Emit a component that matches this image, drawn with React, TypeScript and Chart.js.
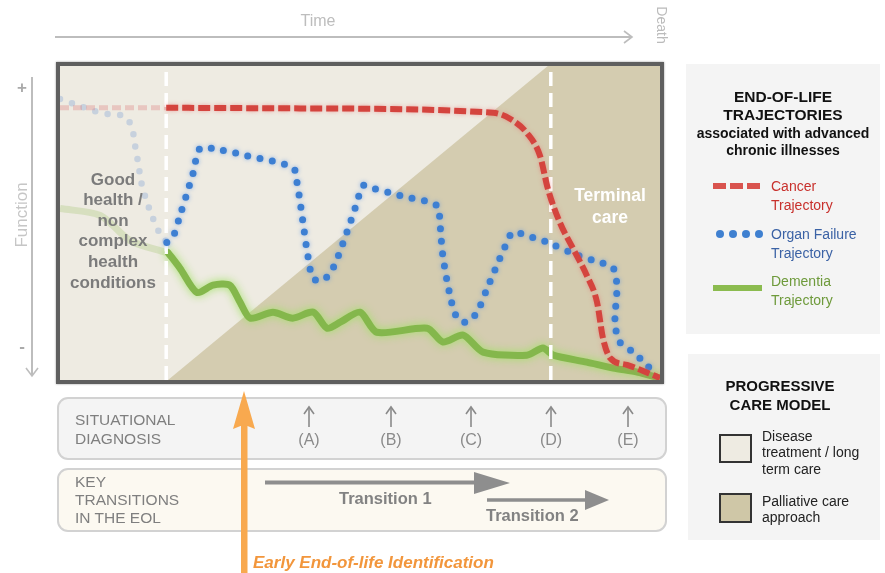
import React, { useEffect, useRef } from "react";
import { Chart, registerables } from "chart.js";

Chart.register(...registerables);

// ---- Data (time 0..100 left→right, function 0..100 bottom→top) ----
const stageBoundaries = [17.7, 81.8];
const palliativeTime = [18, 81.3, 100];
const palliativeLevel = [0, 100, 100];

const cancerEarlyTime = [0, 17.7];
const cancerEarlyFunction = [86.7, 86.7];
const cancerTime = [17.7, 40, 72.2, 75, 77.8, 80, 81.3, 83.3, 85.5, 87.8, 89.5, 90.5, 91.7, 94.5, 98.8, 100];
const cancerFunction = [86.7, 86.5, 85.1, 83.2, 78.7, 71.4, 61, 50.2, 41.9, 33.3, 24.8, 13.3, 7, 4.8, 1.6, 0.6];

const organEarlyTime = [0, 6.7, 11.2, 12.8, 13.8, 16.2, 17.8];
const organEarlyFunction = [89.5, 85.1, 83.2, 71.4, 61, 48.3, 43.8];
const organTime = [17.8, 18.8, 20, 21.2, 22.2, 23.3, 25.5, 31.2, 38.8, 39.5, 40.5, 41.3, 42.2, 43.8, 45.5, 47.8, 49.5, 50.5, 52.2, 56.7, 62.8, 63.3, 63.8, 65, 66.2, 67.8, 69.5, 71.2, 73.3, 74.5, 75.5, 78.8, 81.7, 85.5, 88.8, 92.2, 92.8, 92.5, 93.3, 95.5, 97.8, 98.8];
const organFunction = [43.8, 45.4, 52.4, 59.7, 66, 73.7, 73.7, 71.4, 67.6, 62.9, 50.2, 39.7, 32.4, 31.7, 35.6, 47, 56.5, 61.9, 61, 58.7, 55.6, 50.2, 39.7, 27, 19.7, 18.4, 21.6, 29.2, 38.7, 43.8, 47, 45.4, 43.5, 40.3, 38.1, 35.6, 29.2, 18.4, 12.1, 8.9, 4.8, 2.5];

const dementiaEarlyTime = [0, 6.7, 11.7, 17.7];
const dementiaEarlyFunction = [54.6, 52.4, 44.4, 40.6];
const dementiaTime = [18, 20, 22.8, 25.5, 28.3, 30, 31.7, 35.5, 38.8, 42.2, 44.5, 46.7, 50, 52.8, 61.2, 63.8, 67.2, 70.5, 77.8, 80.5, 82.2, 87.8, 92.2, 96.2, 100];
const dementiaFunction = [40.6, 35.6, 27.9, 30.2, 30.2, 24.8, 19.7, 21.6, 19.7, 21.6, 16.5, 18.4, 21.6, 15.2, 16.5, 12.1, 14.3, 8.9, 7.9, 10.2, 7.9, 5.7, 3.8, 2.5, 0.6];

const goodHealthLines = ["Good", "health /", "non", "complex", "health", "conditions"];
const terminalLines = ["Terminal", "care"];
const diagnosisLabels = ["(A)", "(B)", "(C)", "(D)", "(E)"];
const transitionLabels = ["Transition 1", "Transition 2"];

const pts = (xs: number[], ys: number[]) => xs.map((x, i) => ({ x, y: ys[i] }));

const FONT = '"Liberation Sans", Arial, Helvetica, sans-serif';
const LIGHT = "#eeebe2";
const DARK = "#d4ccb0";

const glowPlugin = {
  id: "glow",
  beforeDatasetDraw(chart: any, args: any) {
    const ds = chart.data.datasets[args.index];
    const ctx = chart.ctx;
    ctx.save();
    if (ds.glowColor) {
      ctx.shadowColor = ds.glowColor;
      ctx.shadowBlur = ds.glowBlur || 6;
    }
  },
  afterDatasetDraw(chart: any) {
    chart.ctx.restore();
  },
};

function TrajectoryChart() {
  const ref = useRef<HTMLCanvasElement | null>(null);
  useEffect(() => {
    if (!ref.current) return;
    const stageSets = stageBoundaries.map((b) => ({
      data: [{ x: b, y: 0 }, { x: b, y: 100 }],
      borderColor: "#ffffff",
      borderWidth: 3.5,
      borderDash: [14, 7],
      pointRadius: 0,
      fill: false,
      order: 7,
      clip: false,
    }));
    const chart = new Chart(ref.current, {
      type: "line",
      data: {
        datasets: [
          {
            data: pts(palliativeTime, palliativeLevel),
            borderWidth: 0,
            borderColor: "rgba(0,0,0,0)",
            backgroundColor: DARK,
            fill: "origin",
            pointRadius: 0,
            tension: 0,
            order: 10,
          },
          ...stageSets,
          {
            data: pts(cancerEarlyTime, cancerEarlyFunction),
            borderColor: "rgba(222,130,130,0.35)",
            borderWidth: 5,
            borderDash: [9, 4],
            pointRadius: 0,
            fill: false,
            order: 9,
            clip: false,
          },
          {
            data: pts(organEarlyTime, organEarlyFunction),
            borderColor: "rgba(140,170,215,0.4)",
            borderWidth: 6.5,
            borderDash: [0, 12.5],
            borderCapStyle: "round",
            pointRadius: 0,
            tension: 0.35,
            fill: false,
            order: 9,
            clip: false,
          },
          {
            data: pts(dementiaEarlyTime, dementiaEarlyFunction),
            borderColor: "rgba(180,205,140,0.4)",
            borderWidth: 7,
            pointRadius: 0,
            tension: 0.3,
            fill: false,
            order: 9,
            clip: false,
          },
          {
            data: pts(dementiaTime, dementiaFunction),
            borderColor: "#84b74c",
            borderWidth: 7,
            borderJoinStyle: "round",
            borderCapStyle: "round",
            pointRadius: 0,
            tension: 0.25,
            fill: false,
            order: 8,
            clip: false,
            glowColor: "rgba(160,225,100,0.95)",
            glowBlur: 9,
          },
          {
            data: pts(organTime, organFunction),
            borderColor: "#3d7fd2",
            borderWidth: 7,
            borderDash: [0, 12.5],
            borderCapStyle: "round",
            pointRadius: 0,
            tension: 0.3,
            fill: false,
            order: 6,
            clip: false,
            glowColor: "rgba(80,140,230,0.6)",
            glowBlur: 4,
          },
          {
            data: pts(cancerTime, cancerFunction),
            borderColor: "#d4443e",
            borderWidth: 6,
            borderDash: [12, 4],
            pointRadius: 0,
            cubicInterpolationMode: "monotone",
            fill: false,
            order: 5,
            clip: false,
            glowColor: "rgba(235,110,110,0.55)",
            glowBlur: 4,
          },
        ] as any,
      },
      options: {
        animation: false,
        responsive: true,
        maintainAspectRatio: false,
        events: [],
        layout: { padding: 0 },
        plugins: { legend: { display: false }, tooltip: { enabled: false } },
        scales: {
          x: { type: "linear", min: 0, max: 100, display: false },
          y: { type: "linear", min: 0, max: 100, display: false },
        },
      },
      plugins: [glowPlugin],
    } as any);
    return () => chart.destroy();
  }, []);
  return <canvas ref={ref} style={{ width: "100%", height: "100%" }} />;
}

function Lines({ lines, left, top, width, lh, style }: any) {
  return (
    <div
      style={{
        position: "absolute",
        left,
        top,
        width,
        lineHeight: lh + "px",
        textAlign: "center",
        whiteSpace: "nowrap",
        ...style,
      }}
    >
      {lines.map((l: string, i: number) => (
        <div key={i}>{l}</div>
      ))}
    </div>
  );
}

export default function App() {
  const diagX = [309, 391, 471, 551, 628];
  return (
    <div
      style={{
        position: "fixed",
        left: 0,
        top: 0,
        width: 885,
        height: 573,
        background: "#ffffff",
        fontFamily: FONT,
        overflow: "hidden",
      }}
    >
      {/* Plot frame */}
      <div
        style={{
          position: "absolute",
          left: 56,
          top: 62,
          width: 608,
          height: 322,
          border: "4px solid #5f5f5f",
          boxSizing: "border-box",
          background: LIGHT,
          boxShadow: "0 0 2px rgba(0,0,0,0.4)",
        }}
      >
        <div style={{ position: "absolute", left: 0, top: 0, width: 600, height: 314 }}>
          <TrajectoryChart />
        </div>
      </div>

      {/* Right panels */}
      <div style={{ position: "absolute", left: 686, top: 64, width: 194, height: 270, background: "#f4f4f4" }} />
      <div style={{ position: "absolute", left: 688, top: 354, width: 192, height: 186, background: "#f4f4f4" }} />

      {/* Bottom boxes */}
      <div
        style={{
          position: "absolute",
          left: 57,
          top: 397,
          width: 610,
          height: 63,
          border: "2px solid #d2d2d2",
          borderRadius: 11,
          boxSizing: "border-box",
          background: "#f4f4f4",
        }}
      />
      <div
        style={{
          position: "absolute",
          left: 57,
          top: 468,
          width: 610,
          height: 64,
          border: "2px solid #d2d2d2",
          borderRadius: 11,
          boxSizing: "border-box",
          background: "#fcf9f1",
        }}
      />

      {/* Decorative arrows */}
      <svg width={885} height={573} style={{ position: "absolute", left: 0, top: 0 }}>
        {/* time axis */}
        <line x1={55} y1={37} x2={632} y2={37} stroke="#bdbdbd" strokeWidth={2} />
        <polyline points="624,31 632,37 624,43" fill="none" stroke="#bdbdbd" strokeWidth={1.6} />
        {/* function axis */}
        <line x1={32} y1={77} x2={32} y2={376} stroke="#bdbdbd" strokeWidth={2} />
        <polyline points="26,368 32,376 38,368" fill="none" stroke="#bdbdbd" strokeWidth={1.6} />
        {/* situational arrows */}
        {diagX.map((x, i) => (
          <g key={i}>
            <line x1={x} y1={427} x2={x} y2={408} stroke="#8a8a8a" strokeWidth={1.6} />
            <polyline points={`${x - 5},${414} ${x},${407} ${x + 5},${414}`} fill="none" stroke="#8a8a8a" strokeWidth={1.6} />
          </g>
        ))}
        {/* transitions */}
        <line x1={265} y1={482.5} x2={478} y2={482.5} stroke="#8e8e8e" strokeWidth={4} />
        <polygon points="474,472 510,483 474,494" fill="#8e8e8e" />
        <line x1={487} y1={500} x2={590} y2={500} stroke="#8e8e8e" strokeWidth={3.5} />
        <polygon points="585,490 609,500 585,510" fill="#8e8e8e" />
        {/* orange early identification arrow */}
        <rect x={241} y={420} width={6.5} height={155} fill="#f8a94f" />
        <polygon points="233,429 244,391 255,429 247.5,426 240.5,426" fill="#f8a94f" />
        {/* legend samples */}
        <line x1={713} y1={186} x2={762} y2={186} stroke="#d9534e" strokeWidth={6} strokeDasharray="13 4" />
        {[720, 733, 746, 759].map((x) => (
          <circle key={x} cx={x} cy={234} r={4} fill="#3f80d0" />
        ))}
        <line x1={713} y1={288} x2={762} y2={288} stroke="#8bbb4f" strokeWidth={6} />
      </svg>

      {/* Axis texts */}
      <div style={{ position: "absolute", left: 268, top: 11, width: 100, textAlign: "center", fontSize: 16, lineHeight: "20px", color: "#bdbdbd" }}>
        Time
      </div>
      <div
        style={{
          position: "absolute",
          left: 642,
          top: 17,
          width: 40,
          textAlign: "center",
          fontSize: 14,
          lineHeight: "16px",
          color: "#bbbbbb",
          transform: "rotate(90deg)",
        }}
      >
        Death
      </div>
      <div style={{ position: "absolute", left: 12, top: 78, width: 20, textAlign: "center", fontSize: 17, lineHeight: "20px", color: "#aaaaaa", fontWeight: "bold" }}>+</div>
      <div style={{ position: "absolute", left: 12, top: 337, width: 20, textAlign: "center", fontSize: 17, lineHeight: "20px", color: "#aaaaaa", fontWeight: "bold" }}>-</div>
      <div
        style={{
          position: "absolute",
          left: -28,
          top: 205,
          width: 100,
          textAlign: "center",
          fontSize: 17,
          lineHeight: "20px",
          color: "#c6c6c6",
          transform: "rotate(-90deg)",
        }}
      >
        Function
      </div>

      {/* In-plot texts */}
      <Lines lines={goodHealthLines} left={53} top={169.7} width={120} lh={20.6} style={{ fontSize: 17, fontWeight: "bold", color: "#7b7b7b" }} />
      <Lines lines={terminalLines} left={550} top={184} width={120} lh={22} style={{ fontSize: 17.5, fontWeight: "bold", color: "#ffffff" }} />

      {/* Legend panel 1 */}
      <Lines lines={["END-OF-LIFE", "TRAJECTORIES"]} left={686} top={88} width={194} lh={18} style={{ fontSize: 15.5, fontWeight: "bold", color: "#111" }} />
      <Lines lines={["associated with advanced", "chronic illnesses"]} left={686} top={124.5} width={194} lh={17} style={{ fontSize: 14, fontWeight: "bold", color: "#111" }} />
      <div style={{ position: "absolute", left: 771, top: 176.5, fontSize: 14, lineHeight: "19px", color: "#c8302c" }}>
        Cancer<br />Trajectory
      </div>
      <div style={{ position: "absolute", left: 771, top: 224.5, fontSize: 14, lineHeight: "19px", color: "#3b62a5" }}>
        Organ Failure<br />Trajectory
      </div>
      <div style={{ position: "absolute", left: 771, top: 271.5, fontSize: 14, lineHeight: "19px", color: "#6e9a3b" }}>
        Dementia<br />Trajectory
      </div>

      {/* Legend panel 2 */}
      <Lines lines={["PROGRESSIVE", "CARE MODEL"]} left={683} top={375.5} width={194} lh={19} style={{ fontSize: 15, fontWeight: "bold", color: "#111" }} />
      <div style={{ position: "absolute", left: 719, top: 434, width: 33, height: 29, border: "2px solid #333", boxSizing: "border-box", background: LIGHT }} />
      <div style={{ position: "absolute", left: 719, top: 493, width: 33, height: 30, border: "2px solid #333", boxSizing: "border-box", background: "#cfc7a7" }} />
      <div style={{ position: "absolute", left: 762, top: 427.5, fontSize: 14, lineHeight: "16.5px", color: "#222" }}>
        Disease<br />treatment / long<br />term care
      </div>
      <div style={{ position: "absolute", left: 762, top: 492.5, fontSize: 14, lineHeight: "16.5px", color: "#222" }}>
        Palliative care<br />approach
      </div>

      {/* Bottom box texts */}
      <div style={{ position: "absolute", left: 75, top: 409.5, fontSize: 15.5, lineHeight: "19px", color: "#7f7f7f" }}>
        SITUATIONAL<br />DIAGNOSIS
      </div>
      {diagnosisLabels.map((l, i) => (
        <div key={l} style={{ position: "absolute", left: diagX[i] - 20, top: 430, width: 40, textAlign: "center", fontSize: 16, lineHeight: "20px", color: "#8a8a8a" }}>
          {l}
        </div>
      ))}
      <div style={{ position: "absolute", left: 75, top: 473, fontSize: 15.5, lineHeight: "18px", color: "#7f7f7f" }}>
        KEY<br />TRANSITIONS<br />IN THE EOL
      </div>
      <div style={{ position: "absolute", left: 339, top: 488, fontSize: 16.5, lineHeight: "20px", fontWeight: "bold", color: "#828282" }}>
        {transitionLabels[0]}
      </div>
      <div style={{ position: "absolute", left: 486, top: 505, fontSize: 16.5, lineHeight: "20px", fontWeight: "bold", color: "#828282" }}>
        {transitionLabels[1]}
      </div>
      <div style={{ position: "absolute", left: 253, top: 553, fontSize: 17, lineHeight: "20px", fontWeight: "bold", fontStyle: "italic", color: "#f2963c", whiteSpace: "nowrap" }}>
        Early End-of-life Identification
      </div>
    </div>
  );
}
